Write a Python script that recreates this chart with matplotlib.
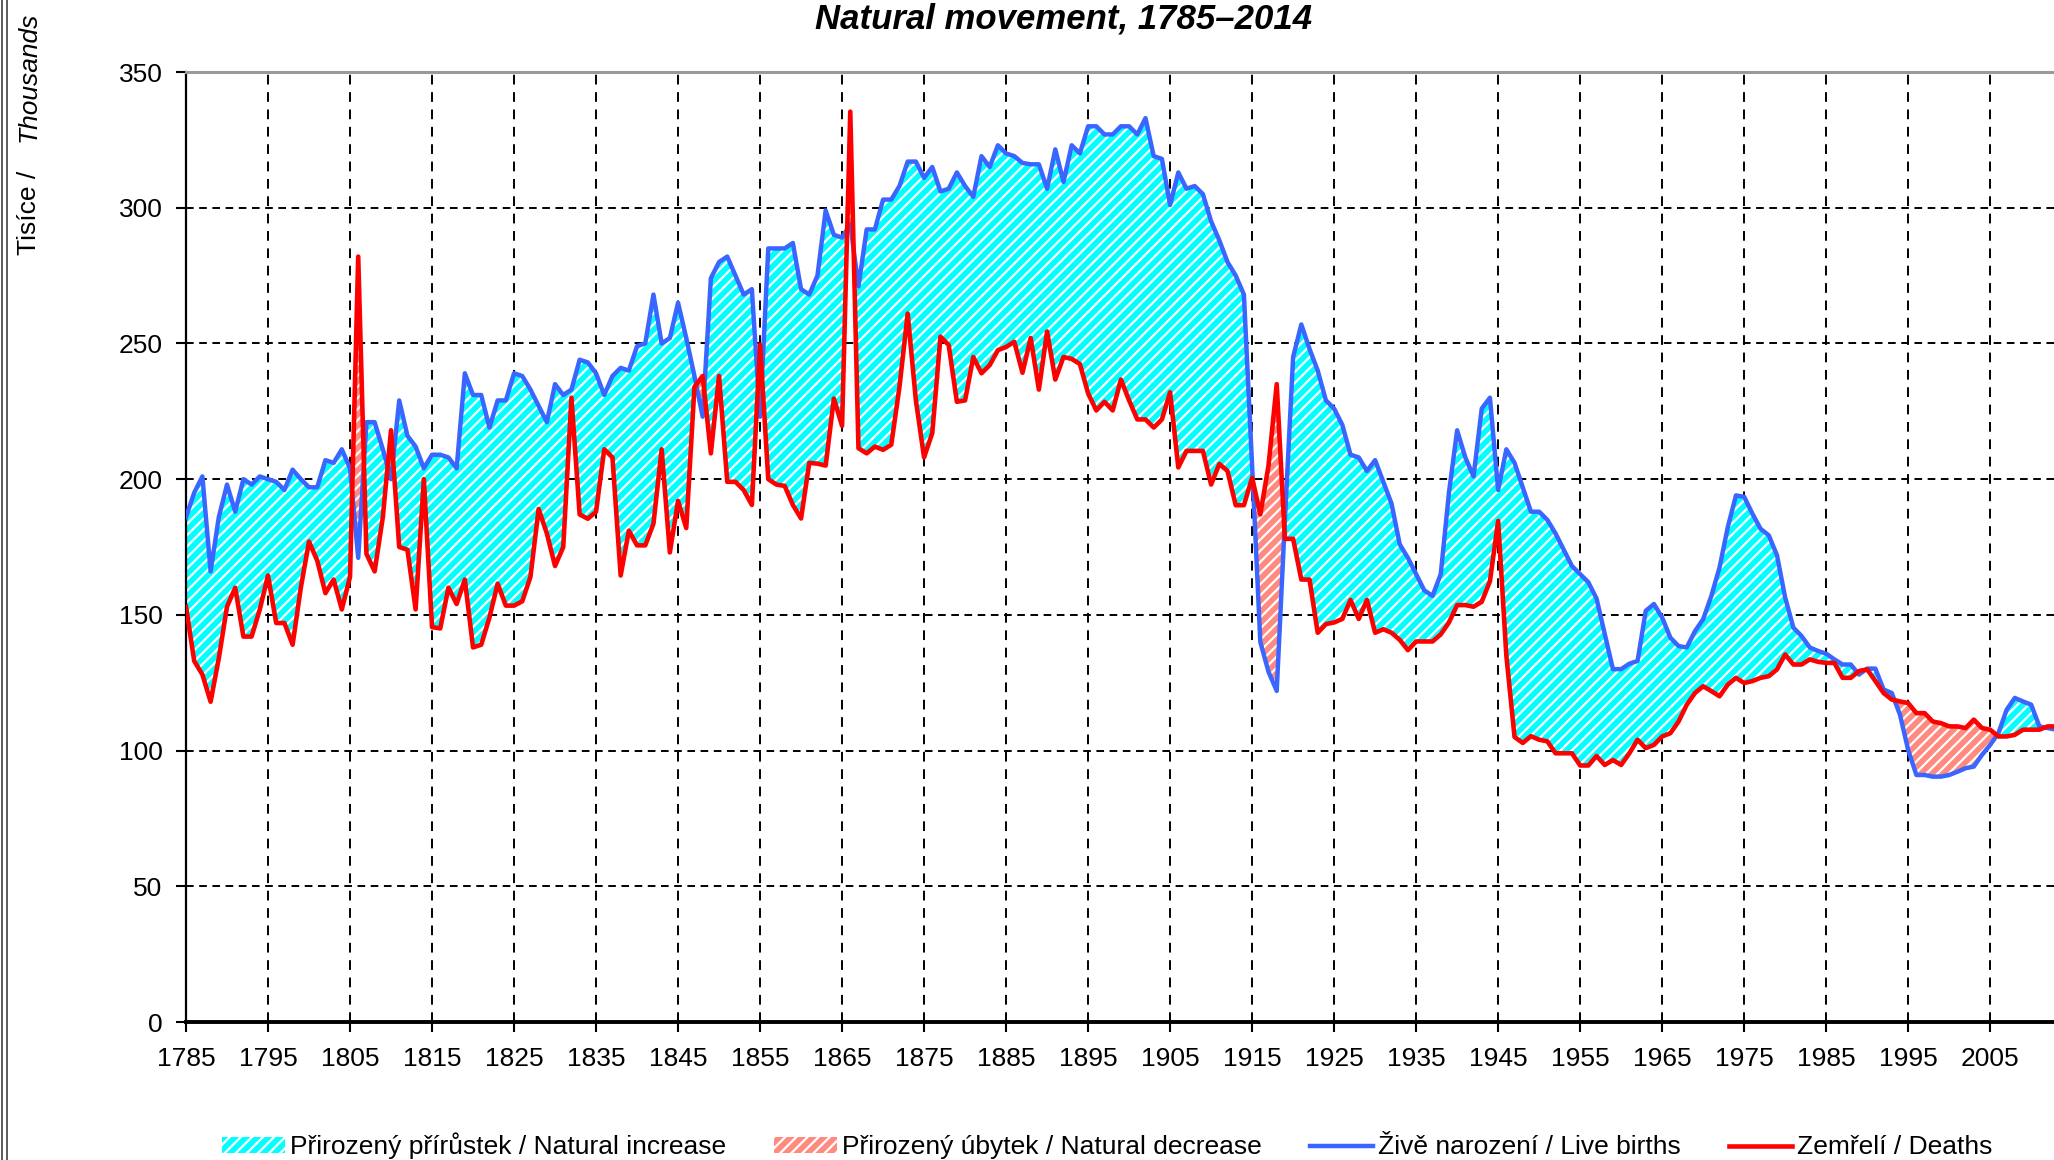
import numpy as np
import matplotlib.pyplot as plt
from matplotlib.patches import Patch
from matplotlib.lines import Line2D

plt.rcParams['font.family'] = ['Liberation Sans', 'DejaVu Sans']
plt.rcParams['lines.scale_dashes'] = False
plt.rcParams['hatch.linewidth'] = 1.6

years = np.arange(1785, 2015)

# live births, thousands (1785-2014)
births = [
    186, 195, 201, 166, 186, 198, 188, 200, 198, 201,
    200, 199, 196, 203.5, 200, 197, 197, 207, 206, 211,
    204, 171, 221, 221, 211, 200, 229, 216, 212, 204,
    209, 209, 208, 204, 239, 231, 231, 219, 229, 229,
    239, 238, 233, 227, 221, 235, 231, 233, 244, 243,
    239, 231, 238, 241, 240, 249, 250, 268, 250, 252,
    265, 252, 238, 223, 274, 280, 282, 275, 268, 270,
    223, 285, 285, 285, 287, 270, 268, 275, 299, 290,
    289, 294, 271, 292, 292, 303, 303, 308, 317, 317,
    311, 315, 306, 307, 313, 308, 304, 319, 315, 323,
    320, 319, 316.5, 316, 316, 307, 321.5, 309.5, 323, 320,
    330, 330, 327, 327, 330, 330, 327, 333, 319, 318,
    301, 313, 307, 308, 305, 295, 288, 280, 275, 268,
    205, 140, 129, 122, 185, 245, 257, 248, 240, 229,
    226, 220, 209, 208, 203, 207, 199, 191, 176, 171,
    165, 159, 157, 165, 195, 218, 208, 201, 226, 230,
    196, 211, 206, 197, 188, 188, 185, 180, 174, 168,
    165, 162, 156, 143, 130, 130, 132, 133, 151.5, 154,
    149, 141.6, 138.5, 138, 144, 148.4, 157, 167.5, 182.3, 194,
    193.5, 187.3, 181.7, 179.3, 172, 156.4, 145.3, 142.2, 138, 136.7,
    135.7, 133.6, 131.7, 131.7, 128, 130.2, 130.2, 122.5, 121.2, 113.2,
    100.2, 91, 91, 90.4, 90.4, 91, 92.2, 93.5, 94.1, 98.4,
    102.1, 106.4, 115, 119.4, 118.1, 116.9, 108.9, 108.3, 107.7, 110,
]

# deaths, thousands (1785-2014)
deaths = [
    153, 133, 128, 118, 134, 153, 160, 142, 142, 152,
    164.5, 147, 147, 139, 160, 177, 170, 158, 163, 152,
    164, 282, 172.5, 166, 186, 218, 175, 174, 152, 200,
    145.5, 145, 160, 154, 163, 138, 139, 149, 161.5, 153.4,
    153.4, 155, 164, 189, 180, 168, 175, 230, 187, 185.4,
    188, 211, 208, 164.5, 181, 175.6, 175.6, 183.6, 211, 173,
    192, 182, 234, 238, 209.5, 238, 199, 199, 196, 190.5,
    249.5, 200, 198, 197.5, 190.5, 185.5, 206, 205.7, 205, 229.7,
    219.6, 335.4, 211.4, 209.5, 212, 210.8, 212.7, 234, 261, 229,
    208, 217, 252.5, 249.4, 228.5, 229, 245, 239, 242, 247.5,
    248.7, 250.6, 239.2, 252, 233, 254.4, 236.7, 245, 244.3, 242.4,
    231.6, 225.3, 228.5, 225.3, 236.7, 229, 222, 222, 219, 222,
    232, 204.3, 210.4, 210.4, 210.4, 198, 205.6, 203, 190.4, 190.4,
    200.5, 187, 205, 235, 178, 178, 163, 163, 143.4, 146.6,
    147.2, 148.5, 155.5, 148.5, 155.5, 143.4, 144.7, 143.4, 140.8, 137,
    140.2, 140.2, 140.2, 142.8, 147.2, 153.6, 153.6, 153, 154.8, 162.4,
    184.6, 135, 105, 102.8, 105.3, 104, 103.4, 99, 99, 99,
    94.5, 94.5, 98, 94.7, 96.5, 94.7, 99, 104, 100.9, 102.1,
    105.2, 106.4, 110.7, 116.9, 121.2, 123.7, 121.9, 120, 124.3, 126.8,
    124.9, 125.6, 126.8, 127.4, 129.9, 135.4, 131.7, 131.7, 133.6, 132.7,
    132.3, 132.3, 126.8, 126.8, 129.3, 129.9, 125.6, 121.2, 118.8, 118.1,
    117.5, 113.8, 113.8, 110.7, 110.1, 108.9, 108.9, 108.3, 111.4, 108.3,
    107.7, 105.2, 105.2, 105.8, 107.7, 107.7, 107.7, 108.9, 108.9, 106,
]

x_ticks = list(range(1785, 2006, 10))
y_ticks = [0, 50, 100, 150, 200, 250, 300, 350]

labels = [
    'Přirozený přírůstek / Natural increase',
    'Přirozený úbytek / Natural decrease',
    'Živě narození / Live births',
    'Zemřelí / Deaths',
]

c_inc = '#00FFFF'
c_dec = '#FF8A80'
c_birth = '#3A66FF'
c_death = '#FF0000'

births = np.array(births)
deaths = np.array(deaths)

W, H = 2054, 1160
fig = plt.figure(figsize=(W / 100, H / 100), dpi=100)
ax = fig.add_axes([186 / W, 138 / H, 1878 / W, 950 / H])

ax.fill_between(years, deaths, births, where=births >= deaths, interpolate=True,
                facecolor=c_inc, edgecolor='white', hatch='///', linewidth=0, zorder=2)
ax.fill_between(years, deaths, births, where=births < deaths, interpolate=True,
                facecolor=c_dec, edgecolor='white', hatch='///', linewidth=0, zorder=2)
ax.plot(years, births, color=c_birth, lw=3.2, zorder=3)
ax.plot(years, deaths, color=c_death, lw=3.3, zorder=4)

ax.set_xlim(1785, 2014)
ax.set_ylim(0, 350)
ax.set_xticks(x_ticks)
ax.set_yticks(y_ticks)
ax.set_axisbelow(True)
ax.yaxis.grid(True, color='black', lw=1.4, ls=(0, (5.5, 4)))
ax.xaxis.grid(True, color='black', lw=1.4, ls=(0, (7, 5.5)))

ax.tick_params(axis='both', direction='out', length=7, width=1.5,
               colors='black', labelsize=19)
ax.tick_params(axis='x', pad=11)
ax.tick_params(axis='y', pad=10)

ax.spines['right'].set_visible(False)
ax.spines['top'].set_color('#9a9a9a')
ax.spines['top'].set_linewidth(2.2)
ax.spines['left'].set_color('black')
ax.spines['left'].set_linewidth(1.6)
ax.spines['bottom'].set_color('black')
ax.spines['bottom'].set_linewidth(2.8)

fig.text(1064 / W, 1 - 28 / H, 'Natural movement, 1785–2014', ha='center',
         va='baseline', fontsize=25, fontweight='bold', fontstyle='italic')

fig.text(29 / W, 1 - 255 / H, 'Tisíce /', rotation=90, ha='center',
         va='bottom', fontsize=19)
fig.text(29 / W, 1 - 12 / H, 'Thousands', rotation=90, ha='center',
         va='top', fontsize=19, fontstyle='italic')

# outer frame of the chart area
for xp in (2, 7):
    fig.add_artist(Line2D([xp / W, xp / W], [0, 1], color='#404040', lw=1.2))

handles = [
    Patch(facecolor=c_inc, edgecolor='white', hatch='///', linewidth=0),
    Patch(facecolor=c_dec, edgecolor='white', hatch='///', linewidth=0),
    Line2D([], [], color=c_birth, lw=3.2),
    Line2D([], [], color=c_death, lw=3.3),
]
fig.legend(handles, labels, loc='center', bbox_to_anchor=(0.539, 14 / H),
           ncol=4, frameon=False, fontsize=19, handlelength=2.4,
           handleheight=0.6, handletextpad=0.2, columnspacing=1.8)

fig.savefig('out.png', dpi=100)
